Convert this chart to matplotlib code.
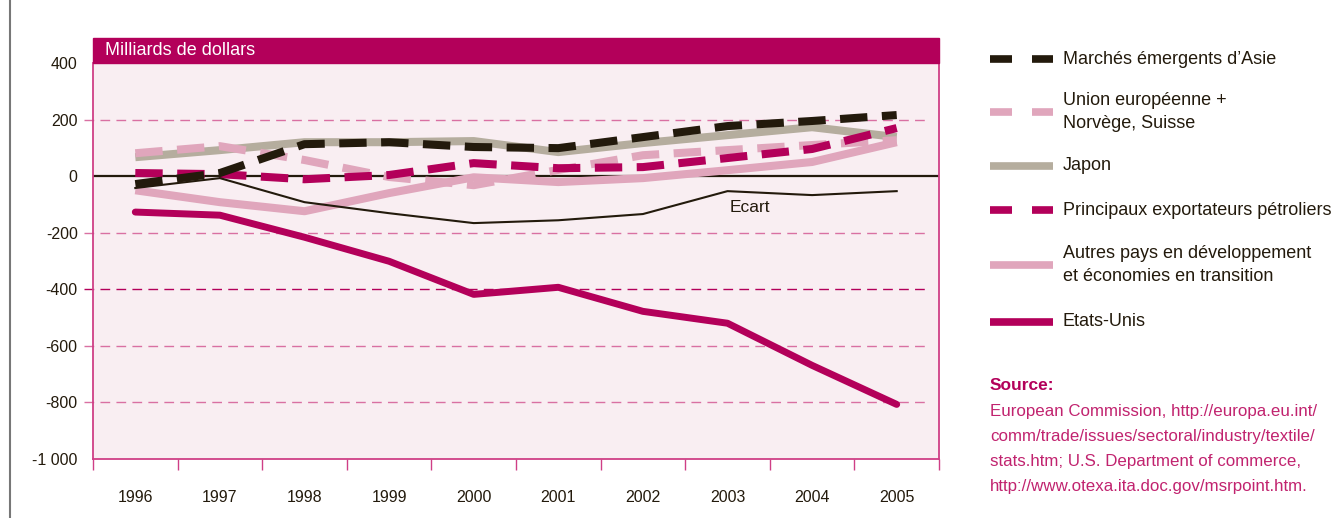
import matplotlib.pyplot as plt
from matplotlib.lines import Line2D
from matplotlib.patches import Rectangle

years = ['1996', '1997', '1998', '1999', '2000', '2001', '2002', '2003', '2004', '2005']

asie = [-28, 11, 113, 120, 103, 99, 138, 177, 195, 216]
ue = [81, 106, 57, -3, -32, 22, 74, 92, 110, 127]
japon = [67, 92, 120, 120, 124, 85, 117, 145, 173, 138]
petrole = [11, 7, -11, 4, 46, 28, 32, 64, 96, 170]
autres = [-50, -92, -124, -60, -4, -21, -7, 21, 50, 120]
usa = [-127, -138, -216, -301, -418, -393, -478, -520, -669, -807]
ecart = [-42, -7, -92, -131, -166, -156, -134, -53, -67, -53]

yticks = [400, 200, 0, -200, -400, -600, -800, -1000]
ylabels = ['400', '200', '0', '-200', '-400', '-600', '-800', '-1 000']

MAG = '#b3005a'
GRID = '#d970a2'
DARK = '#231a0c'
GREY = '#b5ad9e'
LPINK = '#e0a6bc'
BG = '#f9eef2'
SRC = '#c1236f'
ARIAL = ['Liberation Sans', 'DejaVu Sans']

fig = plt.figure(figsize=(13.38, 5.18), dpi=100)
ax = fig.add_axes([93/1338, 1-459/518, 846/1338, 396/518])
ax.set_facecolor(BG)
x = list(range(len(years)))
ax.set_xlim(-0.5, 9.5)
ax.set_ylim(-1000, 400)

# grid
for g in [200, -200, -400, -600, -800]:
    c = MAG if g == -400 else GRID
    ax.axhline(g, xmin=-0.011, xmax=0.989, color=c, lw=1.0, dashes=(7, 4.5), clip_on=False, zorder=1)
ax.axhline(0, color=DARK, lw=1.6, zorder=2)

lw = 5.8
d = (3.4, 1.8)
ax.plot(x, japon, color=GREY, lw=lw, solid_capstyle='butt', zorder=3)
ax.plot(x, autres, color=LPINK, lw=lw, solid_capstyle='butt', zorder=3)
ax.plot(x, ue, color=LPINK, lw=lw, dashes=d, zorder=4)
ax.plot(x, petrole, color=MAG, lw=lw, dashes=d, zorder=5)
ax.plot(x, asie, color=DARK, lw=lw, dashes=d, zorder=6)
ax.plot(x, ecart, color=DARK, lw=1.5, zorder=6)
ax.plot(x, usa, color=MAG, lw=5.0, solid_capstyle='round', zorder=6)
ax.text(7.03, -112, 'Ecart', family=ARIAL, fontsize=12.5, color=DARK, ha='left', va='center')

for s in ['left', 'right', 'bottom']:
    ax.spines[s].set_color('#cf3f86')
    ax.spines[s].set_linewidth(1.3)
ax.spines['top'].set_visible(False)

ax.set_yticks(yticks)
ax.set_yticklabels(ylabels, family=ARIAL, fontsize=11.5, color=DARK)
ax.tick_params(axis='y', length=0, pad=11)
ax.set_xticks(x)
ax.set_xticklabels(years, family=ARIAL, fontsize=11.5, color=DARK)
ax.tick_params(axis='x', length=0, pad=22)
ax.set_xticks([i - 0.5 for i in range(11)], minor=True)
ax.tick_params(axis='x', which='minor', length=8, color='#cf3f86', width=1)

# header band
ax.add_patch(Rectangle((0, 1), 1, 25/396, transform=ax.transAxes, color=MAG, clip_on=False, zorder=10))
ax.text(12/846, 1 + 12.5/396, 'Milliards de dollars', transform=ax.transAxes, color='white',
        family=ARIAL, fontsize=13, va='center', ha='left', zorder=11)

# left border line
fig.add_artist(Line2D([9.5/1338, 9.5/1338], [0, 1], color='#777777', lw=1.5))

# legend
W, H = 1338, 518
items = [
    ('Marchés émergents d\u2019Asie', DARK, True, 59),
    ('Union européenne +\nNorvège, Suisse', LPINK, True, 112),
    ('Japon', GREY, False, 166),
    ('Principaux exportateurs pétroliers', MAG, True, 210),
    ('Autres pays en développement\net économies en transition', LPINK, False, 265),
    ('Etats-Unis', MAG, False, 322),
]
for lab, c, dashed, yy in items:
    ly = 1 - yy/H
    if dashed:
        fig.add_artist(Line2D([990/W, 1012/W], [ly, ly], color=c, lw=5.5, solid_capstyle='butt'))
        fig.add_artist(Line2D([1032/W, 1053/W], [ly, ly], color=c, lw=5.5, solid_capstyle='butt'))
    else:
        fig.add_artist(Line2D([990/W, 1053/W], [ly, ly], color=c, lw=5.5, solid_capstyle='butt'))
    fig.text(1063/W, ly, lab, family=ARIAL, fontsize=13, color=DARK, va='center', ha='left',
             linespacing=1.5)

fig.text(990/W, 1 - 385/H, 'Source:', family=ARIAL, fontsize=12.5, weight='bold', color=MAG, va='center')
src = ('European Commission, http://europa.eu.int/\n'
       'comm/trade/issues/sectoral/industry/textile/\n'
       'stats.htm; U.S. Department of commerce,\n'
       'http://www.otexa.ita.doc.gov/msrpoint.htm.')
fig.text(990/W, 1 - 404/H, src, family=ARIAL, fontsize=12.2, color=SRC, va='top', ha='left', linespacing=1.82)

fig.savefig('out.png', dpi=100)
